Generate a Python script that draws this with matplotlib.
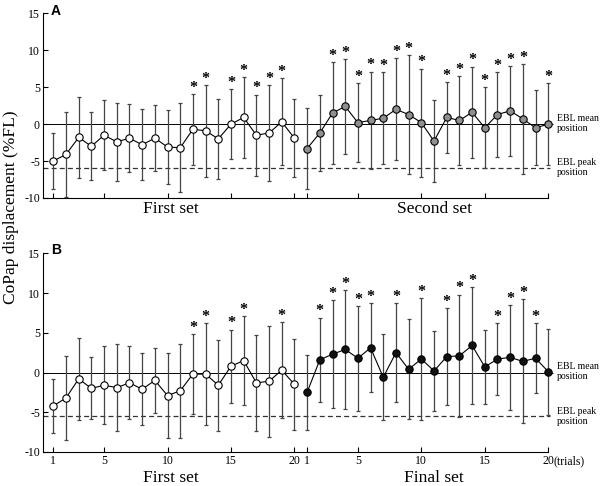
import numpy as np
import matplotlib
matplotlib.use('Agg')
import matplotlib.pyplot as plt
from matplotlib.transforms import blended_transform_factory

plt.rcParams['font.family'] = ['Liberation Serif', 'DejaVu Serif']
plt.rcParams['axes.unicode_minus'] = False

# trial numbers within each set
trials = np.arange(1, 21)

# panel A : first set (open) and second set (grey)
a_first_mean = [-5.0, -4.1, -1.8, -3.0, -1.5, -2.4, -1.9, -2.8, -1.9, -3.1,
                -3.2, -0.7, -0.9, -2.0, 0.0, 0.9, -1.5, -1.2, 0.3, -1.9]
a_first_sd = [3.8, 5.7, 5.5, 4.6, 4.7, 5.3, 4.6, 4.8, 4.5, 5.0,
              6.0, 4.8, 6.2, 5.4, 4.7, 5.5, 5.5, 6.5, 5.9, 5.3]
a_first_sig = [12, 13, 15, 16, 17, 18, 19]

a_second_mean = [-3.3, -1.2, 1.5, 2.4, 0.2, 0.5, 0.8, 2.0, 1.3, 0.2,
                 -2.3, 0.9, 0.5, 1.6, -0.5, 1.3, 1.8, 0.7, -0.5, 0.0]
a_second_sd = [5.5, 5.1, 6.9, 6.4, 5.3, 6.6, 6.2, 6.9, 8.0, 7.3,
               5.5, 4.8, 6.0, 6.2, 5.5, 5.7, 6.1, 7.4, 5.1, 5.6]
a_second_sig = [3, 4, 5, 6, 7, 8, 9, 10, 12, 13, 14, 15, 16, 17, 18, 20]

# panel B : first set (open) and final set (black)
b_first_mean = [-4.2, -3.2, -0.8, -2.0, -1.6, -1.9, -1.3, -2.1, -1.0, -2.9,
                -2.3, -0.2, -0.2, -1.6, 0.8, 1.5, -1.3, -1.1, 0.3, -1.5]
b_first_sd = [3.4, 5.3, 5.2, 3.9, 4.9, 5.5, 4.6, 4.5, 4.1, 5.3,
              5.9, 5.0, 6.4, 5.7, 4.6, 5.6, 6.0, 7.0, 6.0, 5.7]
b_first_sig = [12, 13, 15, 16, 19]

b_final_mean = [-2.5, 1.6, 2.3, 2.9, 1.8, 3.1, -0.6, 2.5, 0.4, 1.7,
                0.2, 2.0, 2.1, 3.4, 0.7, 1.7, 1.9, 1.4, 1.8, 0.1]
b_final_sd = [4.7, 5.3, 6.8, 7.5, 6.6, 5.6, 5.4, 6.2, 6.3, 7.7,
              5.0, 6.1, 7.7, 7.3, 4.7, 4.5, 6.6, 7.8, 4.4, 5.4]
b_final_sig = [2, 3, 4, 5, 6, 8, 10, 12, 13, 14, 16, 17, 18, 19]

ebl_peak_a = -5.9
ebl_peak_b = -5.5

tick_trials = [1, 5, 10, 15, 20]
yticks = [-10, -5, 0, 5, 10, 15]

fig = plt.figure(figsize=(6.0, 4.86), dpi=100, facecolor='white')
axA = fig.add_axes([0.0712, 0.5926, 0.851, 0.38])
axB = fig.add_axes([0.0712, 0.07, 0.851, 0.4088])

XLO = 0.165


def draw_set(ax, offset, mean, sd, sig, face):
    x = trials + offset
    ax.errorbar(x, mean, yerr=sd, fmt='none', ecolor='#444444', elinewidth=0.9,
                capsize=1.3, capthick=0.9, zorder=2)
    ax.plot(x, mean, '-', color='black', lw=0.8, zorder=3)
    ax.plot(x, mean, 'o', ms=5.3, mfc=face, mec='black', mew=0.8, zorder=4)
    for t in sig:
        top = mean[t - 1] + sd[t - 1]
        ax.annotate('*', xy=(t + offset, top), xytext=(0, 4.5),
                    textcoords='offset points', ha='center', va='center',
                    fontsize=11.5, fontweight='bold', zorder=5)


def style_axes(ax, peak, letter, set_names, show_labels):
    ax.set_xlim(XLO, 40.4)
    ax.set_ylim(-10, 15)
    for s in ['top', 'right']:
        ax.spines[s].set_visible(False)
    ax.spines['bottom'].set_bounds(XLO, 40)
    ax.spines['left'].set_linewidth(0.8)
    ax.spines['bottom'].set_linewidth(0.8)
    ax.set_yticks(yticks)
    ticks = tick_trials + [t + 20 for t in tick_trials]
    ax.set_xticks(ticks)
    if show_labels:
        ax.set_xticklabels([str(t) for t in tick_trials] * 2)
    else:
        ax.set_xticklabels([])
    ax.tick_params(direction='in', length=3.5, width=0.8, labelsize=8.5, pad=2)
    ax.hlines(0, XLO, 40.4, colors='black', lw=0.7, zorder=1, clip_on=False)
    ax.hlines(peak, XLO, 40.15, colors='#333333', lw=0.9, linestyles=(0, (4, 2.5)),
              zorder=1, clip_on=False)
    ax.text(40.7, 0.1, 'EBL mean\nposition', fontsize=7, ha='left', va='center',
            linespacing=1.1, clip_on=False)
    ax.text(40.7, peak, 'EBL peak\nposition', fontsize=7, ha='left', va='center',
            linespacing=1.1, clip_on=False)
    ax.text(0.016, 1.015, letter, transform=ax.transAxes, fontsize=10,
            fontweight='bold', family='Liberation Sans', ha='left', va='center')
    trans = blended_transform_factory(ax.transData, ax.transAxes)
    drop = -19 if show_labels else -8
    ax.annotate(set_names[0], xy=(10.3, 0), xycoords=trans, xytext=(0, drop),
                textcoords='offset points', ha='center', va='center', fontsize=12.5)
    ax.annotate(set_names[1], xy=(31.0, 0), xycoords=trans, xytext=(0, drop),
                textcoords='offset points', ha='center', va='center', fontsize=12.5)


draw_set(axA, 0, a_first_mean, a_first_sd, a_first_sig, 'white')
draw_set(axA, 20, a_second_mean, a_second_sd, a_second_sig, '#8f8f8f')
style_axes(axA, ebl_peak_a, 'A', ['First set', 'Second set'], False)

draw_set(axB, 0, b_first_mean, b_first_sd, b_first_sig, 'white')
draw_set(axB, 20, b_final_mean, b_final_sd, b_final_sig, '#111111')
style_axes(axB, ebl_peak_b, 'B', ['First set', 'Final set'], True)
axB.annotate('(trials)', xy=(40.45, 0), xycoords=blended_transform_factory(axB.transData, axB.transAxes),
             xytext=(0, -6.5), textcoords='offset points', ha='left', va='center', fontsize=8.5)

fig.text(0.018, 0.573, 'CoPap displacement (%FL)', rotation=90, ha='center', va='center',
         fontsize=12.5)

plt.savefig('out.png', dpi=100, facecolor='white')
